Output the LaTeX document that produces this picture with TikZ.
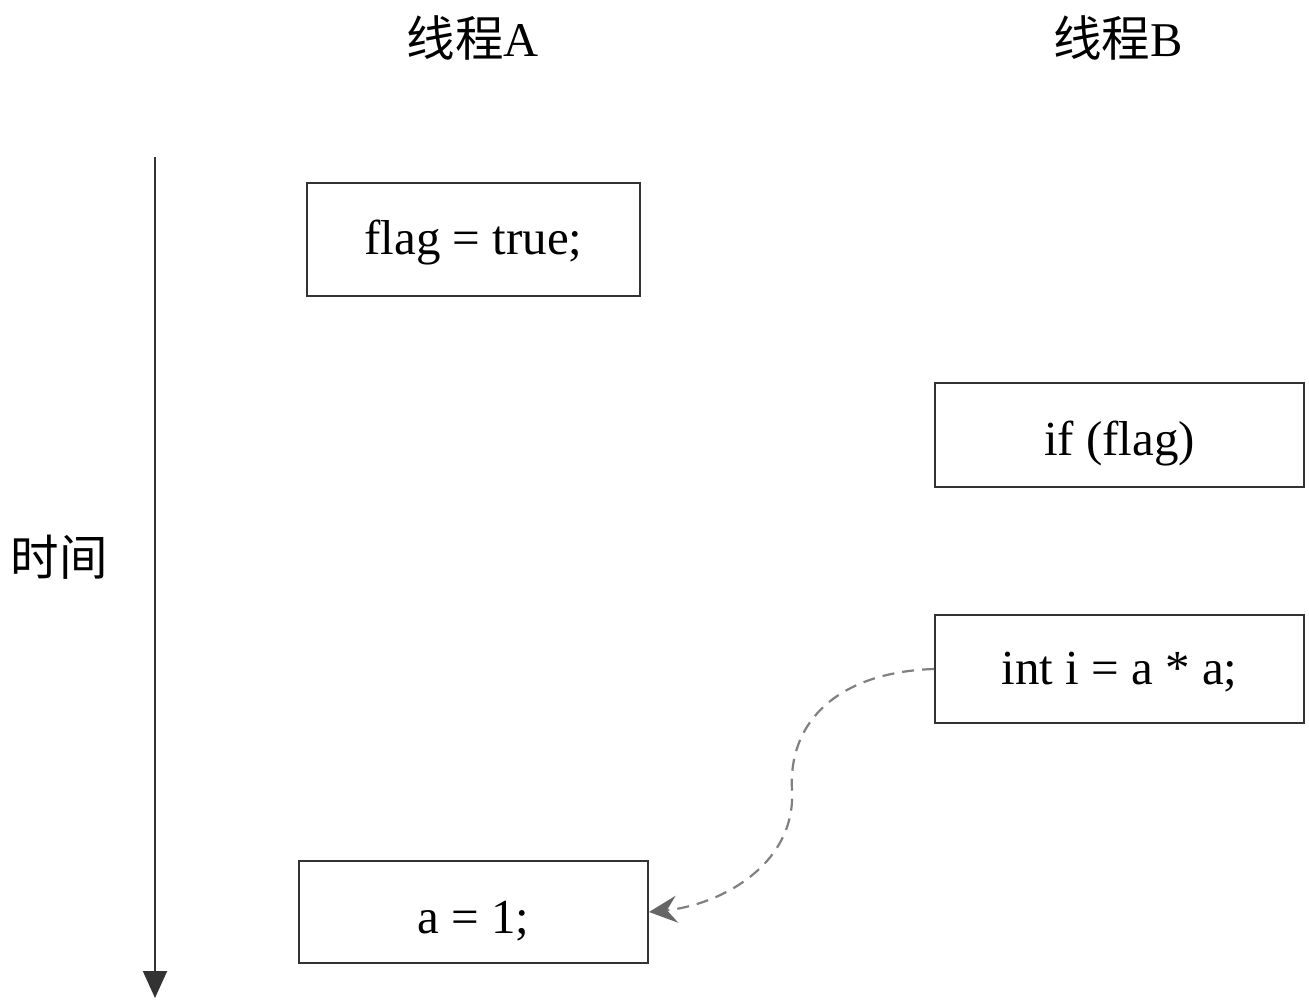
\documentclass[tikz,border=0pt]{standalone}
\usepackage{fontspec}
\setmainfont{Liberation Serif}
\newfontfamily\cjk{Noto Sans CJK SC}
\usetikzlibrary{arrows.meta}
\definecolor{boxline}{HTML}{333333}
\definecolor{dashgray}{HTML}{808080}
\definecolor{tipgray}{HTML}{666666}
\tikzset{
  codebox/.style={draw=boxline, line width=2pt, rectangle, inner sep=0pt,
    font=\fontsize{49}{58}\selectfont, text depth=0pt},
  title/.style={font=\fontsize{48.5}{58}\selectfont, inner sep=0pt},
  dep/.style={draw=dashgray, line width=2.2pt, dash pattern=on 12pt off 8pt,
    -{Stealth[length=28pt,width=27pt,inset=10pt,color=tipgray]}},
}
\begin{document}
\begin{tikzpicture}[x=1pt,y=-1pt]
\useasboundingbox (0,0) rectangle (1309,1000);
\node[title] (tA) at (473,38) {{\cjk 线程}A};
\node[title] (tB) at (1118,38) {{\cjk 线程}B};
\node[title] (time) at (59,557) {\cjk 时间};
\coordinate (axtop) at (155,157);
\coordinate (axbot) at (155,998);
\draw[line width=2pt, draw=boxline, -{Triangle[length=27pt,width=24pt]}] (axtop) -- (axbot);
\node[codebox, text height=31pt, minimum width=333pt, minimum height=113pt] (b1) at (473.5,239.5) {flag = true;};
\node[codebox, text height=40pt, minimum width=369pt, minimum height=104pt] (b2) at (1119.5,435) {if (flag)};
\node[codebox, text height=31pt, minimum width=369pt, minimum height=108pt] (b3) at (1119.5,669) {int i = a * a;};
\node[codebox, text height=42pt, minimum width=349pt, minimum height=102pt] (b4) at (473.5,912) {a = 1;};
\coordinate (mid) at (792,790);
\draw[dep] (b3.west) .. controls (840,672) and (788,720) .. (mid)
  .. controls (796,865) and (720,905) .. (b4.east);
\end{tikzpicture}
\end{document}
